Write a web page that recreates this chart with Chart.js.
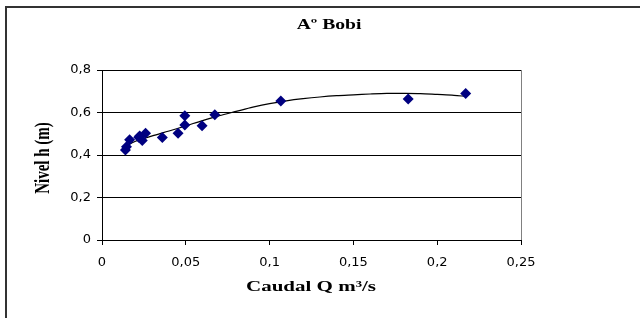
<!DOCTYPE html>
<html>
<head>
<meta charset="utf-8">
<script src="https://cdn.jsdelivr.net/npm/chart.js@4/dist/chart.umd.min.js"></script>
<style>
  html, body { margin: 0; padding: 0; background: #fff; }
  #wrap { width: 640px; height: 318px; }
</style>
</head>
<body>
<div id="wrap"><canvas id="chart" width="640" height="318"></canvas></div>
<script>
// measured points: caudal Q (m3/s) vs nivel h (m)
const caudal = [0.014, 0.0146, 0.0165, 0.0219, 0.0225, 0.024, 0.026, 0.036, 0.0454, 0.0494, 0.0494, 0.0597, 0.0673, 0.1067, 0.1827, 0.217];
const nivel  = [0.424, 0.439, 0.472, 0.483, 0.489, 0.468, 0.502, 0.482, 0.502, 0.585, 0.541, 0.538, 0.589, 0.654, 0.663, 0.690];

// trend line
const trendQ = [0.014, 0.02, 0.03, 0.04, 0.05, 0.06, 0.07, 0.08, 0.09, 0.10, 0.11, 0.12, 0.13, 0.14, 0.15, 0.16, 0.17, 0.18, 0.19, 0.20, 0.21, 0.217];
const trendH = [0.44, 0.465, 0.49, 0.513, 0.537, 0.562, 0.585, 0.605, 0.625, 0.642, 0.655, 0.665, 0.673, 0.679, 0.683, 0.687, 0.69, 0.69, 0.689, 0.685, 0.681, 0.676];

const xTickLabels = ['0', '0,05', '0,1', '0,15', '0,2', '0,25'];
const yTickLabels = ['0', '0,2', '0,4', '0,6', '0,8'];

const TITLE = 'Aº Bobi';
const X_TITLE = 'Caudal Q m³/s';
const Y_TITLE = 'Nivel h (m)';

const serifFamily = '"Liberation Serif", "DejaVu Serif", serif';

// stretched serif text like the old spreadsheet export
function stretchedText(ctx, text, x, y, size, rotate) {
  ctx.save();
  ctx.translate(x, y);
  if (rotate) {
    ctx.rotate(-Math.PI / 2);
    ctx.scale(1, 1.4);
  } else {
    ctx.scale(1.4, 1);
  }
  ctx.font = 'bold ' + size + 'px ' + serifFamily;
  ctx.fillStyle = '#000';
  ctx.textAlign = 'center';
  ctx.textBaseline = 'middle';
  ctx.fillText(text, 0, 0);
  ctx.restore();
}

const decor = {
  id: 'decor',
  beforeDraw(chart) {
    const ctx = chart.ctx;
    ctx.save();
    ctx.fillStyle = '#fff';
    ctx.fillRect(0, 0, chart.width, chart.height);
    ctx.restore();
  },
  afterDraw(chart) {
    const ctx = chart.ctx;
    const a = chart.chartArea;
    ctx.save();
    // plot area right edge
    ctx.strokeStyle = '#808080';
    ctx.lineWidth = 1;
    ctx.beginPath();
    ctx.moveTo(Math.round(a.right) + 0.5, a.top);
    ctx.lineTo(Math.round(a.right) + 0.5, a.bottom);
    ctx.stroke();
    // outer frame (only left and top visible)
    ctx.strokeStyle = '#333';
    ctx.lineWidth = 2;
    ctx.beginPath();
    ctx.moveTo(6, chart.height + 2);
    ctx.lineTo(6, 7);
    ctx.lineTo(chart.width + 2, 7);
    ctx.stroke();
    ctx.restore();

    stretchedText(ctx, TITLE, 329, 25, 14, false);
    stretchedText(ctx, X_TITLE, 311, 287, 15, false);
    stretchedText(ctx, Y_TITLE, 44, 158, 15, true);
  }
};

const tickFont = { family: '"DejaVu Sans", "Liberation Sans", Arial, sans-serif', size: 13 };

new Chart(document.getElementById('chart'), {
  type: 'scatter',
  data: {
    datasets: [
      {
        label: 'medidas',
        data: caudal.map((q, i) => ({ x: q, y: nivel[i] })),
        pointStyle: 'rectRot',
        pointRadius: 5.5,
        pointHoverRadius: 5.5,
        backgroundColor: '#000080',
        borderColor: '#000080',
        borderWidth: 0,
      },
      {
        label: 'tendencia',
        data: trendQ.map((q, i) => ({ x: q, y: trendH[i] })),
        showLine: true,
        pointRadius: 0,
        borderColor: '#000',
        borderWidth: 1.2,
        tension: 0.3,
        fill: false,
      }
    ]
  },
  plugins: [decor],
  options: {
    responsive: false,
    animation: false,
    devicePixelRatio: 1,
    layout: { padding: { left: 0, top: 70, right: 119, bottom: 0 } },
    plugins: {
      legend: { display: false },
      title: { display: false },
      tooltip: { enabled: false },
    },
    scales: {
      x: {
        type: 'linear',
        min: 0,
        max: 0.25,
        ticks: {
          stepSize: 0.05,
          autoSkip: false,
          maxRotation: 0,
          padding: 10,
          color: '#000',
          font: tickFont,
          callback: (v, i) => xTickLabels[i],
        },
        grid: {
          drawOnChartArea: false,
          drawTicks: true,
          tickLength: 5,
          color: '#000',
        },
        border: { color: '#000', width: 1 },
        afterFit(scale) { scale.height = 78; },
      },
      y: {
        type: 'linear',
        min: 0,
        max: 0.8,
        ticks: {
          stepSize: 0.2,
          autoSkip: false,
          padding: 6,
          color: '#000',
          font: tickFont,
          callback: (v, i) => yTickLabels[i],
        },
        grid: {
          color: '#000',
          tickLength: 5,
          lineWidth: 1,
        },
        border: { color: '#000', width: 1 },
        afterFit(scale) { scale.width = 102; },
      }
    }
  }
});
</script>
</body>
</html>
